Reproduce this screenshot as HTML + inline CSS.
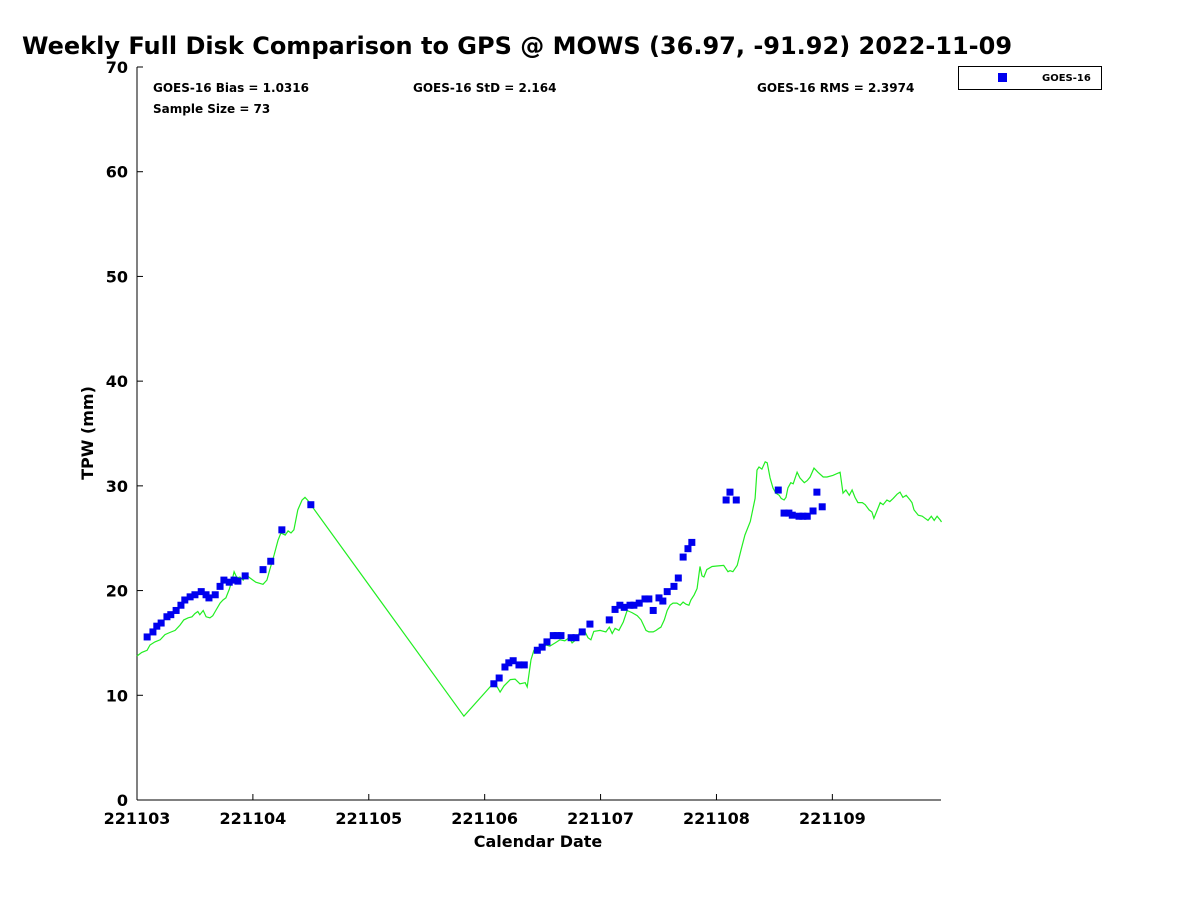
<!DOCTYPE html>
<html><head><meta charset="utf-8"><style>
body{margin:0;background:#fff;font-family:"Liberation Sans","DejaVu Sans",sans-serif;}
svg text{font-family:"DejaVu Sans","Liberation Sans",sans-serif;font-weight:bold;fill:#000}
</style></head><body>
<svg id="chart" width="1200" height="900" xmlns="http://www.w3.org/2000/svg">
<rect width="1200" height="900" fill="#fff"/>
<text x="22" y="54" font-size="24" style="font-family:'DejaVu Sans',sans-serif">Weekly Full Disk Comparison to GPS @ MOWS (36.97, -91.92) 2022-11-09</text>
<text x="153" y="92" font-size="12">GOES-16 Bias = 1.0316</text>
<text x="153" y="113" font-size="12">Sample Size = 73</text>
<text x="413" y="92" font-size="12">GOES-16 StD = 2.164</text>
<text x="757" y="92" font-size="12">GOES-16 RMS = 2.3974</text>
<g>
<rect x="958.5" y="66.5" width="143" height="23" fill="#fff" stroke="#000" stroke-width="1"/>
<rect x="998" y="73" width="9" height="9" fill="#0000ee"/>
<text x="1042" y="81" font-size="10">GOES-16</text>
</g>
<g id="axes"></g>
<g id="marks"></g>
<text x="538" y="847" font-size="16" text-anchor="middle">Calendar Date</text>
<text x="93" y="433" font-size="16" text-anchor="middle" transform="rotate(-90 93 433)">TPW (mm)</text>
</svg>
<script>
const xTickLabels=["221103","221104","221105","221106","221107","221108","221109"];
const xTickHours=[0,24,48,72,96,120,144];
const yTicks=[0,10,20,30,40,50,60,70];
const goesHours=[2.1,3.3,4.1,5.0,6.2,7.0,8.1,9.1,9.9,11.0,12.0,13.3,14.3,14.9,16.2,17.2,18.0,19.1,20.1,20.9,22.4,26.1,27.7,30.0,36.0,
73.9,75.0,76.2,77.0,77.9,79.1,80.2,82.9,83.9,84.9,86.2,87.0,87.8,89.9,90.9,92.2,93.8,97.8,99.0,100.0,100.9,102.1,102.9,104.0,105.2,106.0,106.9,108.1,108.9,109.8,111.2,112.1,113.1,114.1,114.9,
122.0,122.8,124.1,132.8,134.0,135.0,135.7,137.1,137.9,138.8,140.0,140.8,141.9];
const goesTPW=[15.57,16.05,16.6,16.9,17.5,17.7,18.1,18.6,19.1,19.4,19.6,19.9,19.6,19.3,19.6,20.4,21.0,20.8,21.0,20.9,21.4,22.0,22.8,25.8,28.2,
11.1,11.65,12.7,13.1,13.3,12.9,12.9,14.3,14.6,15.1,15.7,15.7,15.7,15.5,15.5,16.05,16.8,17.2,18.2,18.6,18.4,18.6,18.6,18.8,19.2,19.2,18.1,19.3,19.0,19.9,20.4,21.2,23.2,24.0,24.6,
28.65,29.4,28.65,29.6,27.4,27.4,27.2,27.1,27.1,27.1,27.6,29.4,28.0];
const gpsHours=[0,1.0,2.1,2.7,3.7,4.8,5.8,6.8,7.9,8.9,9.7,10.6,11.4,12.0,12.6,13.0,13.7,14.3,15.1,15.7,16.2,17.2,17.8,18.4,19.1,19.7,20.1,20.7,21.3,22.0,22.6,23.4,24.6,26.1,26.9,27.5,28.4,29.2,29.8,30.7,31.3,31.9,32.5,33.3,34.2,34.8,35.4,36.0,67.7,
73.3,74.6,75.2,76.0,77.3,78.3,79.3,80.4,80.8,81.6,82.2,82.8,83.9,84.7,85.5,86.6,87.6,88.6,89.5,90.1,90.9,91.7,92.8,93.4,94.0,94.6,95.9,97.1,97.8,98.4,99.0,99.8,100.7,101.5,102.5,103.6,104.4,105.4,106.0,106.9,107.5,108.1,108.5,109.2,109.8,110.4,111.0,111.8,112.5,113.1,113.7,114.3,114.7,115.4,116.0,116.6,117.0,117.4,118.0,119.1,120.1,121.5,122.4,122.8,123.4,124.3,125.1,125.9,127.0,128.0,128.4,128.8,129.4,130.1,130.5,131.1,131.7,132.3,133.0,133.4,134.0,134.4,134.8,135.4,135.9,136.7,137.3,138.2,138.8,139.4,140.2,141.0,142.1,142.9,144.1,145.6,146.2,146.8,147.5,148.1,148.7,149.3,150.2,150.8,151.6,152.2,152.6,153.3,153.9,154.5,155.3,155.9,156.6,157.4,158.0,158.6,159.3,160.1,160.5,160.9,161.8,162.6,163.2,163.8,164.5,165.1,165.7,166.4,166.6];
const gpsTPW=[13.75,14.1,14.3,14.8,15.1,15.3,15.8,16.0,16.2,16.7,17.2,17.4,17.5,17.8,18.0,17.7,18.1,17.5,17.4,17.6,18.0,18.8,19.1,19.3,20.1,21.0,21.8,21.2,21.3,21.0,21.5,21.2,20.8,20.6,21.0,22.0,23.4,24.8,25.5,25.3,25.7,25.5,25.8,27.7,28.65,28.9,28.6,28.2,8.0,
10.9,10.8,10.3,10.9,11.5,11.55,11.1,11.2,10.8,13.4,14.3,14.5,14.5,14.8,14.7,15.0,15.3,15.2,15.5,15.0,15.3,16.05,16.05,15.5,15.3,16.1,16.2,16.05,16.5,15.9,16.4,16.2,17.0,18.1,17.9,17.6,17.2,16.2,16.05,16.05,16.2,16.4,16.5,17.2,18.1,18.6,18.8,18.8,18.6,18.9,18.7,18.6,19.1,19.6,20.2,22.3,21.4,21.3,22.0,22.3,22.35,22.4,21.8,21.9,21.8,22.4,23.9,25.3,26.6,28.8,31.5,31.8,31.6,32.3,32.2,30.75,29.8,29.3,29.1,28.8,28.65,28.9,29.8,30.3,30.2,31.3,30.75,30.3,30.5,30.85,31.7,31.3,30.85,30.85,31.0,31.3,29.3,29.6,29.1,29.6,28.9,28.4,28.4,28.2,27.7,27.5,26.9,27.7,28.4,28.2,28.65,28.5,28.8,29.2,29.4,28.9,29.1,28.65,28.4,27.7,27.2,27.1,26.9,26.7,27.1,26.7,27.1,26.7,26.55];

const X0=137,X1=941,Y0=800,Y1=67,HMAX=166.5,VMAX=70;
const xs=h=>X0+h/HMAX*(X1-X0);
const ys=v=>Y0-v/VMAX*(Y0-Y1);
const NS="http://www.w3.org/2000/svg";
function mk(tag,attrs,parent){const e=document.createElementNS(NS,tag);for(const k in attrs)e.setAttribute(k,attrs[k]);parent.appendChild(e);return e;}
const axes=document.getElementById('axes'),marks=document.getElementById('marks');
const yl=mk('line',{x1:X0,y1:Y1,x2:X0,y2:Y0,stroke:'#000','stroke-width':1},axes);


const xl=mk('line',{x1:X0,y1:Y0,x2:X1,y2:Y0,stroke:'#000','stroke-width':1},axes);


yTicks.forEach(v=>{
  const t=mk('line',{x1:X0,y1:ys(v),x2:X0+6,y2:ys(v),stroke:'#000'},axes);
  
  
  const l=mk('text',{x:X0-9,y:ys(v)+6,'font-size':16,'text-anchor':'end',fill:'#262626'},axes);
  
  
  l.textContent=v;
});
xTickHours.forEach((h,i)=>{
  const t=mk('line',{x1:xs(h),y1:Y0,x2:xs(h),y2:Y0-6,stroke:'#000'},axes);
  
  
  const l=mk('text',{x:xs(h),y:Y0+24,'font-size':16,'text-anchor':'middle',fill:'#262626'},axes);
  
  
  l.textContent=xTickLabels[i];
});
const pts=gpsHours.map((h,i)=>xs(h).toFixed(1)+','+ys(gpsTPW[i]).toFixed(1)).join(' ');
const pl=mk('polyline',{points:pts,fill:'none',stroke:'#22ee22','stroke-width':1.2},marks);


goesHours.forEach((h,i)=>{
  const r=mk('rect',{x:xs(h)-3.5,y:ys(goesTPW[i])-3.5,width:7,height:7,fill:'#0000ee'},marks);
  
  
});
</script>
</body></html>
